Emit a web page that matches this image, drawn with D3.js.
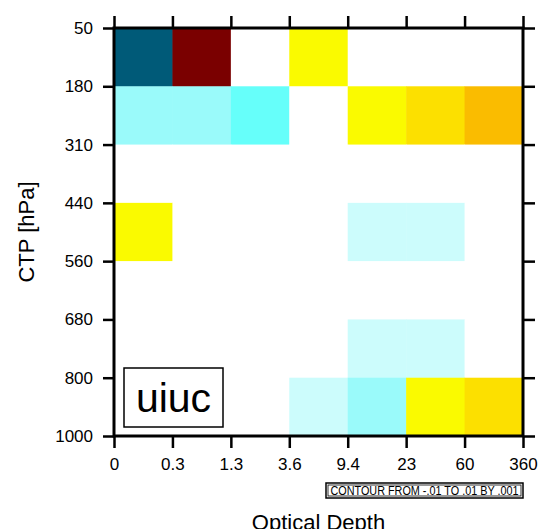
<!DOCTYPE html>
<html>
<head>
<meta charset="utf-8">
<script src="https://cdn.jsdelivr.net/npm/d3@7"></script>
<style>
  body { margin: 0; background: #fff; }
  svg { font-family: "Liberation Sans", Arial, sans-serif; }
</style>
</head>
<body>
<div class="viz"></div>
<script>
// bin edges
let tauLabels = ["0", "0.3", "1.3", "3.6", "9.4", "23", "60", "360"];
let ctpLabels = ["50", "180", "310", "440", "560", "680", "800", "1000"];

// difference values, one row per CTP bin (top to bottom)
let row50   = [-0.011, 0.011, 0, 0.0015, 0, 0, 0];
let row180  = [-0.0025, -0.0025, -0.0035, 0, 0.0015, 0.0025, 0.0035];
let row310  = [0, 0, 0, 0, 0, 0, 0];
let row440  = [0.0015, 0, 0, 0, -0.0015, -0.0015, 0];
let row560  = [0, 0, 0, 0, 0, 0, 0];
let row680  = [0, 0, 0, 0, -0.0015, -0.0015, 0];
let row800  = [0, 0, 0, -0.0015, -0.0025, 0.0015, 0.0025];
let rows = [row50, row180, row310, row440, row560, row680, row800];

// contour levels -.01 to .01 by .001
let levels = d3.range(-10, 11).map(d => d / 1000);
let levelColors = [
	"#005a78", "#006890", "#0080a8", "#0098c4", "#00b4dc", "#00d0ee", "#30ecff",
	"#66fffa", "#9afafa", "#ccfcfc", "#ffffff", "#ffffff",
	"#fafa00", "#fce000", "#fabc00", "#fa9600", "#f56e00", "#eb4600", "#d21e00",
	"#b40000", "#960000", "#7a0000"
];

let margin = { top: 28, left: 114, right: 22, bottom: 93 },
	width = 545, height = 529,
	plotW = width - margin.left - margin.right,
	plotH = height - margin.top - margin.bottom;

let svg = d3.select('.viz').append('svg')
	.attr('width', width)
	.attr('height', height);

let x = d3.scaleLinear().domain([0, 7]).range([0, plotW]);
let y = d3.scaleLinear().domain([0, 7]).range([0, plotH]);
let color = d3.scaleThreshold()
	.domain(levels.map(d => d + 1e-9))
	.range(levelColors);

let g = svg.append('g')
	.attr('transform', 'translate(' + margin.left + ',' + margin.top + ')');

let cells = [];
rows.forEach(function(r, i) {
	r.forEach(function(v, j) { cells.push({ row: i, col: j, value: v }); });
});

g.append('g').selectAll('rect')
	.data(cells)
	.enter().append('rect')
	.attr('x', d => x(d.col))
	.attr('y', d => y(d.row))
	.attr('width', x(1) - x(0) + 0.5)
	.attr('height', y(1) - y(0) + 0.5)
	.attr('fill', d => color(d.value));

// axes
let ticks = d3.range(8);
function styleAxis(sel) {
	sel.select('.domain').remove();
	sel.selectAll('.tick line').attr('stroke', '#000').attr('stroke-width', 2.5);
	sel.selectAll('.tick text').attr('fill', '#000').style('font-size', '17px');
}

g.append('g')
	.attr('transform', 'translate(0,' + plotH + ')')
	.call(d3.axisBottom(x).tickValues(ticks).tickFormat(i => tauLabels[i]).tickSize(12).tickPadding(10))
	.call(styleAxis);
g.append('g')
	.call(d3.axisTop(x).tickValues(ticks).tickFormat('').tickSize(12))
	.call(styleAxis);
g.append('g')
	.call(d3.axisLeft(y).tickValues(ticks).tickFormat(i => ctpLabels[i]).tickSize(11).tickPadding(10))
	.call(styleAxis);
g.append('g')
	.attr('transform', 'translate(' + plotW + ',0)')
	.call(d3.axisRight(y).tickValues(ticks).tickFormat('').tickSize(12))
	.call(styleAxis);

g.append('rect')
	.attr('width', plotW)
	.attr('height', plotH)
	.attr('fill', 'none')
	.attr('stroke', '#000')
	.attr('stroke-width', 3);

// model label
g.append('rect')
	.attr('x', 10).attr('y', 340)
	.attr('width', 99).attr('height', 59)
	.attr('fill', '#fff')
	.attr('stroke', '#000')
	.attr('stroke-width', 1.5);
g.append('text')
	.attr('x', 59.5).attr('y', 384)
	.attr('text-anchor', 'middle')
	.style('font-size', '41px')
	.text('uiuc');

// axis titles
svg.append('text')
	.attr('transform', 'translate(34,' + (margin.top + plotH / 2) + ') rotate(-90)')
	.attr('text-anchor', 'middle')
	.style('font-size', '22px')
	.text('CTP [hPa]');
svg.append('text')
	.attr('x', margin.left + plotW / 2)
	.attr('y', 530)
	.attr('text-anchor', 'middle')
	.style('font-size', '22px')
	.text('Optical Depth');

// contour info box
let info = svg.append('g').attr('transform', 'translate(326,483)');
info.append('rect')
	.attr('width', 197).attr('height', 15)
	.attr('fill', '#fff').attr('stroke', '#000').attr('stroke-width', 1.5);
info.append('rect')
	.attr('x', 2).attr('y', 2).attr('width', 193).attr('height', 11)
	.attr('fill', 'none').attr('stroke', '#000').attr('stroke-width', 0.8);
info.append('text')
	.attr('x', 98.5).attr('y', 12)
	.attr('text-anchor', 'middle')
	.attr('textLength', 188)
	.attr('lengthAdjust', 'spacingAndGlyphs')
	.style('font-size', '12px')
	.text('CONTOUR FROM -.01 TO .01 BY .001');
</script>
</body>
</html>
